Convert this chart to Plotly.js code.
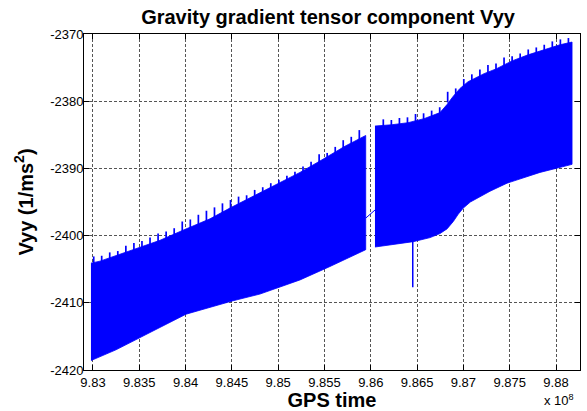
<!DOCTYPE html>
<html>
<head>
<meta charset="utf-8">
<script src="https://cdn.plot.ly/plotly-3.0.1.min.js"></script>
<style>html,body{margin:0;padding:0;background:#fff}#chart{width:587px;height:411px}</style>
</head>
<body>
<div id="chart"></div>
<script>
// GPS time in units of 1e8 s, Vyy in 1/ms^2
// Segment 1 (before the data gap): upper / lower envelope of the oscillating signal
const seg1UpperX = [9.82978, 9.83076, 9.83432, 9.83724, 9.83972, 9.84264, 9.84479, 9.84911, 9.85235, 9.85451, 9.85721, 9.85945];
const seg1Upper  = [-2404.1, -2403.8, -2402.1, -2400.7, -2399.2, -2397.5, -2395.9, -2392.9, -2390.6, -2388.9, -2386.7, -2385.1];
const seg1LowerX = [9.82978, 9.83248, 9.83508, 9.84004, 9.84512, 9.84803, 9.85235, 9.85559, 9.85945];
const seg1Lower  = [-2418.6, -2417.0, -2415.1, -2411.7, -2409.7, -2408.7, -2406.6, -2404.6, -2402.1];

// Segment 2 (after the gap)
const seg2UpperX = [9.86045, 9.86229, 9.86402, 9.86575, 9.86747, 9.86823, 9.86888, 9.86963, 9.87050, 9.87136, 9.87223, 9.87352, 9.87525, 9.87698, 9.87870, 9.88043, 9.88173];
const seg2Upper  = [-2383.7, -2383.5, -2383.2, -2382.6, -2381.7, -2380.5, -2379.3, -2378.1, -2377.1, -2376.5, -2375.9, -2375.2, -2374.0, -2373.1, -2372.3, -2371.6, -2371.2];
const seg2LowerX = [9.86045, 9.86459, 9.86640, 9.86747, 9.86823, 9.86891, 9.86945, 9.86999, 9.87075, 9.87183, 9.87287, 9.87471, 9.87827, 9.88173];
const seg2Lower  = [-2401.7, -2400.9, -2400.3, -2399.7, -2399.0, -2397.9, -2396.8, -2395.9, -2395.0, -2394.2, -2393.4, -2392.2, -2390.6, -2389.4];

// Daily spikes on the upper envelope (position, peak value)
const spike1X = [9.83008, 9.83094, 9.83181, 9.83268, 9.83355, 9.83442, 9.83529, 9.83616, 9.83703, 9.83790, 9.83877, 9.83964, 9.84051, 9.84138, 9.84225, 9.84312, 9.84398, 9.84485, 9.84572, 9.84659, 9.84746, 9.84833, 9.84920, 9.85007, 9.85094, 9.85181, 9.85268, 9.85355, 9.85442, 9.85529, 9.85616, 9.85702, 9.85789, 9.85876];
const spike1Peak = [-2403.1, -2403.0, -2402.5, -2402.3, -2401.5, -2401.1, -2400.8, -2400.3, -2399.7, -2399.4, -2398.9, -2397.9, -2397.6, -2396.9, -2396.3, -2395.8, -2395.2, -2394.7, -2394.2, -2394.0, -2393.2, -2392.8, -2392.2, -2391.7, -2391.1, -2390.5, -2389.7, -2389.0, -2387.9, -2387.7, -2386.8, -2385.8, -2385.3, -2384.3];
const spike2X = [9.86135, 9.86222, 9.86309, 9.86396, 9.86483, 9.86570, 9.86657, 9.86744, 9.86830, 9.86917, 9.87004, 9.87091, 9.87178, 9.87265, 9.87352, 9.87439, 9.87526, 9.87613, 9.87700, 9.87787, 9.87873, 9.87960, 9.88047, 9.88134];
const spike2Peak = [-2382.7, -2382.8, -2382.5, -2382.4, -2381.9, -2381.8, -2381.4, -2380.9, -2378.6, -2378.1, -2376.7, -2376.0, -2375.3, -2374.6, -2374.4, -2373.5, -2373.3, -2372.9, -2372.3, -2372.0, -2371.6, -2371.1, -2370.8, -2370.6];

// Line across the data gap and the single downward outlier
const gapX = [9.85945, 9.86045];
const gapY = [-2397.4, -2396.2];
const outlierX = [9.86453, 9.86453];
const outlierY = [-2400.5, -2407.7];

// Axis ticks
const xTickVals = [9.83, 9.835, 9.84, 9.845, 9.85, 9.855, 9.86, 9.865, 9.87, 9.875, 9.88];
const xTickText = ['9.83', '9.835', '9.84', '9.845', '9.85', '9.855', '9.86', '9.865', '9.87', '9.875', '9.88'];
const yTickVals = [-2420, -2410, -2400, -2390, -2380, -2370];
const yTickText = ['-2420', '-2410', '-2400', '-2390', '-2380', '-2370'];

const BLUE = '#0000ff';

function band(ux, uy, lx, ly) {
  return {
    type: 'scatter', mode: 'lines',
    x: ux.concat(lx.slice().reverse()),
    y: uy.concat(ly.slice().reverse()),
    fill: 'toself', fillcolor: BLUE,
    line: {color: BLUE, width: 0.8},
    hoverinfo: 'skip'
  };
}
function spikes(xs, peaks) {
  const x = [], y = [];
  xs.forEach((v, i) => { x.push(v, v, null); y.push(peaks[i], peaks[i] - 1.6, null); });
  return {type: 'scatter', mode: 'lines', x: x, y: y, line: {color: BLUE, width: 1.7}, hoverinfo: 'skip'};
}

const traces = [
  band(seg1UpperX, seg1Upper, seg1LowerX, seg1Lower),
  band(seg2UpperX, seg2Upper, seg2LowerX, seg2Lower),
  spikes(spike1X, spike1Peak),
  spikes(spike2X, spike2Peak),
  {type: 'scatter', mode: 'lines', x: gapX, y: gapY, line: {color: BLUE, width: 1}},
  {type: 'scatter', mode: 'lines', x: outlierX, y: outlierY, line: {color: BLUE, width: 1.5}}
];

const axisCommon = {
  ticks: 'inside', ticklen: 5, tickcolor: '#000', tickwidth: 1,
  showline: true, linecolor: '#000', linewidth: 1, mirror: 'ticks',
  showgrid: true, gridcolor: '#555', gridwidth: 1, griddash: '3px,2px',
  zeroline: false, tickfont: {size: 13, color: '#000'}
};

const layout = {
  width: 587, height: 411,
  margin: {l: 84, r: 7, t: 34, b: 41},
  paper_bgcolor: '#fff', plot_bgcolor: '#fff',
  font: {family: '"Liberation Sans", Arial, sans-serif', size: 13, color: '#000'},
  showlegend: false,
  title: {
    text: 'Gravity gradient tensor component Vyy',
    font: {size: 20, weight: 'bold', color: '#000'},
    x: 0.492, xref: 'paper', xanchor: 'center',
    y: 0.958, yref: 'container', yanchor: 'middle'
  },
  xaxis: Object.assign({}, axisCommon, {
    range: [9.82903, 9.88259], tickmode: 'array', tickvals: xTickVals, ticktext: xTickText,
    title: {text: 'GPS time', font: {size: 20, weight: 'bold'}, standoff: 1}
  }),
  yaxis: Object.assign({}, axisCommon, {
    range: [-2420, -2370], tickmode: 'array', tickvals: yTickVals, ticktext: yTickText,
    ticklabelstandoff: -3,
    title: {text: 'Vyy (1/ms<sup>2</sup>)', font: {size: 20, weight: 'bold'}, standoff: 11}
  }),
  annotations: [{
    text: 'x 10<sup>8</sup>', xref: 'paper', yref: 'paper', x: 0.992, y: -0.09,
    xanchor: 'right', yanchor: 'middle', showarrow: false, font: {size: 13}
  }]
};

Plotly.newPlot('chart', traces, layout, {displayModeBar: false, staticPlot: true});
</script>
</body>
</html>
